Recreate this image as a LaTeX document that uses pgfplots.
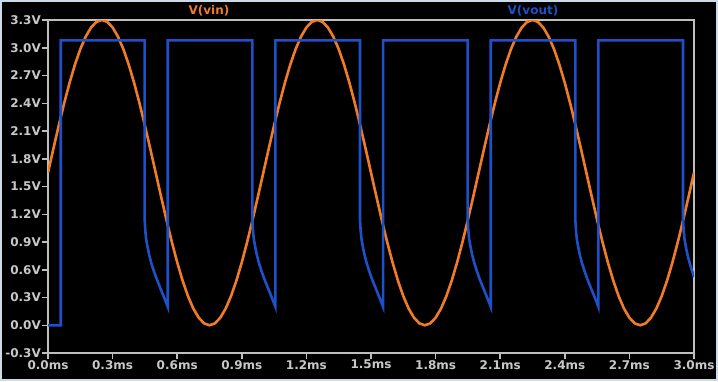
\documentclass[border=0pt]{standalone}
\usepackage{fontspec}
\setmainfont{DejaVu Sans}
\usepackage{pgfplots}
\pgfplotsset{compat=1.18}
\definecolor{vin}{RGB}{240,124,40}
\definecolor{vout}{RGB}{30,80,200}
\definecolor{frame}{RGB}{190,190,190}
\definecolor{txt}{RGB}{200,200,200}
\definecolor{border}{RGB}{205,218,232}
\begin{document}
\begin{tikzpicture}[x=1pt,y=1pt]
\fill[black] (0,0) rectangle (718,381);
\draw[border,line width=2pt] (1,1) rectangle (717,380);
\begin{axis}[at={(48pt,28pt)},anchor=south west,scale only axis,
  width=646pt,height=333pt,
  xmin=0,xmax=3,ymin=-0.3,ymax=3.3,
  axis line style={frame,line width=1.8pt},
  tick pos=left, tick align=outside, major tick length=6pt,
  tick style={frame,line width=1.5pt},
  xtick={0,0.3,0.6,0.9,1.2,1.5,1.8,2.1,2.4,2.7,3.0},
  xticklabels={0.0ms,0.3ms,0.6ms,0.9ms,1.2ms,1.5ms,1.8ms,2.1ms,2.4ms,2.7ms,3.0ms},
  ytick={-0.3,0,0.3,0.6,0.9,1.2,1.5,1.8,2.1,2.4,2.7,3.0,3.3},
  yticklabels={-0.3V,0.0V,0.3V,0.6V,0.9V,1.2V,1.5V,1.8V,2.1V,2.4V,2.7V,3.0V,3.3V},
  ticklabel style={txt,font=\bfseries\fontsize{12}{14}\selectfont},
  xticklabel style={inner sep=1pt},
  yticklabel style={inner sep=1pt},
]
\addplot[vin,line width=2.6pt] table {
x y
0.000 1.650
0.025 1.908
0.050 2.160
0.075 2.399
0.100 2.620
0.125 2.817
0.150 2.985
0.175 3.120
0.200 3.219
0.225 3.280
0.250 3.300
0.275 3.280
0.300 3.219
0.325 3.120
0.350 2.985
0.375 2.817
0.400 2.620
0.425 2.399
0.450 2.160
0.475 1.908
0.500 1.650
0.525 1.392
0.550 1.140
0.575 0.901
0.600 0.680
0.625 0.483
0.650 0.315
0.675 0.180
0.700 0.081
0.725 0.020
0.750 0.000
0.775 0.020
0.800 0.081
0.825 0.180
0.850 0.315
0.875 0.483
0.900 0.680
0.925 0.901
0.950 1.140
0.975 1.392
1.000 1.650
1.025 1.908
1.050 2.160
1.075 2.399
1.100 2.620
1.125 2.817
1.150 2.985
1.175 3.120
1.200 3.219
1.225 3.280
1.250 3.300
1.275 3.280
1.300 3.219
1.325 3.120
1.350 2.985
1.375 2.817
1.400 2.620
1.425 2.399
1.450 2.160
1.475 1.908
1.500 1.650
1.525 1.392
1.550 1.140
1.575 0.901
1.600 0.680
1.625 0.483
1.650 0.315
1.675 0.180
1.700 0.081
1.725 0.020
1.750 0.000
1.775 0.020
1.800 0.081
1.825 0.180
1.850 0.315
1.875 0.483
1.900 0.680
1.925 0.901
1.950 1.140
1.975 1.392
2.000 1.650
2.025 1.908
2.050 2.160
2.075 2.399
2.100 2.620
2.125 2.817
2.150 2.985
2.175 3.120
2.200 3.219
2.225 3.280
2.250 3.300
2.275 3.280
2.300 3.219
2.325 3.120
2.350 2.985
2.375 2.817
2.400 2.620
2.425 2.399
2.450 2.160
2.475 1.908
2.500 1.650
2.525 1.392
2.550 1.140
2.575 0.901
2.600 0.680
2.625 0.483
2.650 0.315
2.675 0.180
2.700 0.081
2.725 0.020
2.750 0.000
2.775 0.020
2.800 0.081
2.825 0.180
2.850 0.315
2.875 0.483
2.900 0.680
2.925 0.901
2.950 1.140
2.975 1.392
3.000 1.650
};
\addplot[vout,line width=2.6pt] table {
x y
0 0
0.059 0
0.059 3.08
0.449 3.08
0.449 1.14
0.452 1.02
0.456 0.93
0.462 0.85
0.470 0.76
0.480 0.67
0.491 0.59
0.503 0.51
0.515 0.44
0.527 0.37
0.541 0.29
0.556 0.20
0.556 3.08
0.949 3.08
0.949 1.14
0.952 1.02
0.956 0.93
0.962 0.85
0.970 0.76
0.980 0.67
0.991 0.59
1.003 0.51
1.015 0.44
1.027 0.37
1.041 0.29
1.056 0.20
1.056 3.08
1.449 3.08
1.449 1.14
1.452 1.02
1.456 0.93
1.462 0.85
1.470 0.76
1.480 0.67
1.491 0.59
1.503 0.51
1.515 0.44
1.527 0.37
1.541 0.29
1.556 0.20
1.556 3.08
1.949 3.08
1.949 1.14
1.952 1.02
1.956 0.93
1.962 0.85
1.970 0.76
1.980 0.67
1.991 0.59
2.003 0.51
2.015 0.44
2.027 0.37
2.041 0.29
2.056 0.20
2.056 3.08
2.449 3.08
2.449 1.14
2.452 1.02
2.456 0.93
2.462 0.85
2.470 0.76
2.480 0.67
2.491 0.59
2.503 0.51
2.515 0.44
2.527 0.37
2.541 0.29
2.556 0.20
2.556 3.08
2.949 3.08
2.949 1.14
2.952 1.02
2.956 0.93
2.962 0.85
2.970 0.76
2.980 0.67
2.991 0.59
3.000 0.52
};
\end{axis}
\node[vin,font=\bfseries\fontsize{12}{14}\selectfont] at (209,370) {V(vin)};
\node[vout,font=\bfseries\fontsize{12}{14}\selectfont] at (533,370) {V(vout)};
\end{tikzpicture}
\end{document}
